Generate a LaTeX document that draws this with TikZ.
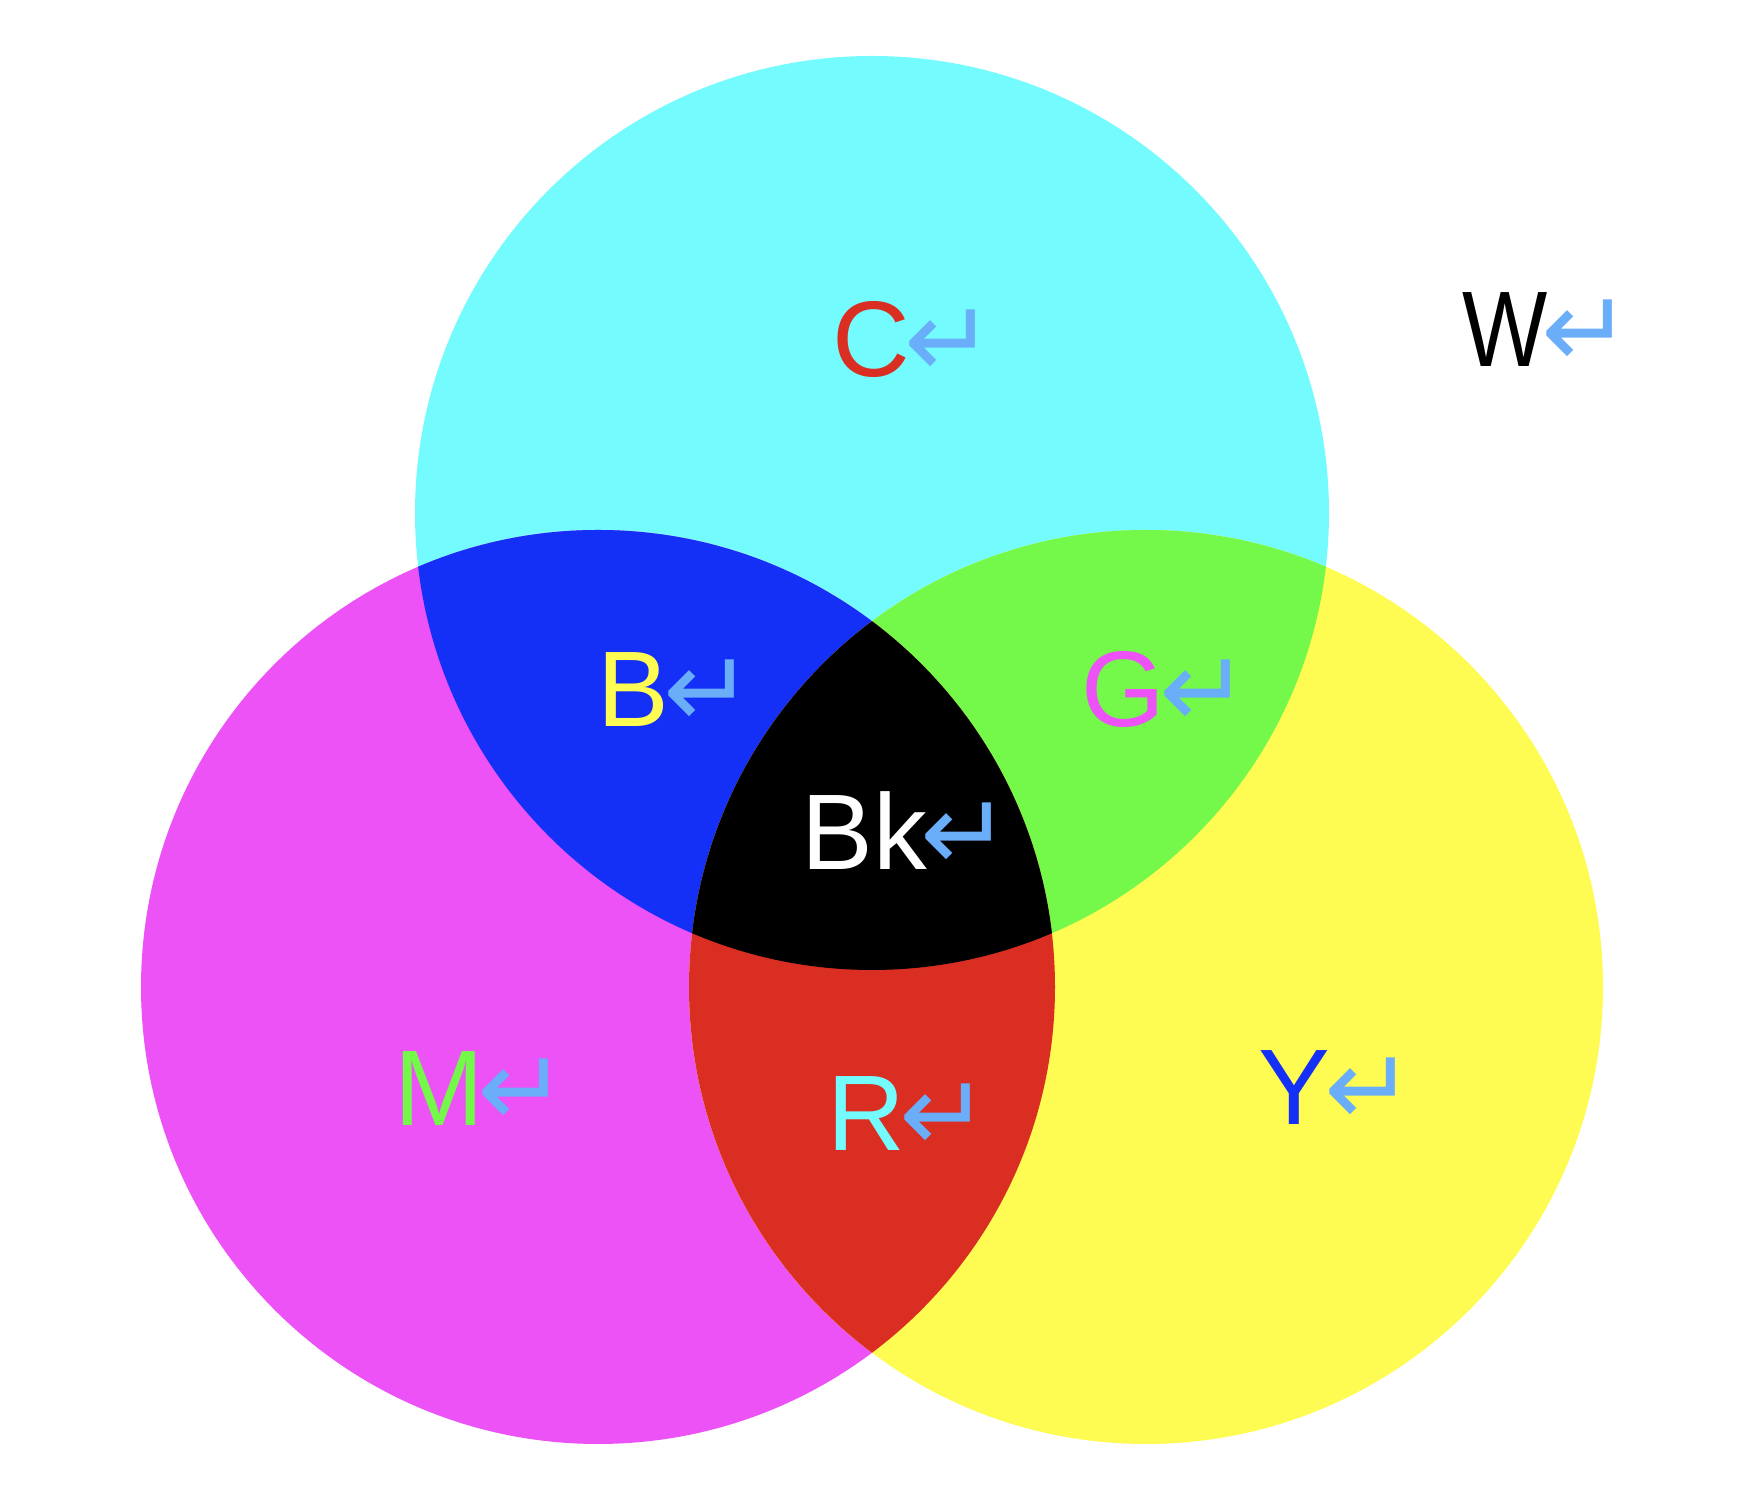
\documentclass[tikz,border=0pt]{standalone}
\usepackage{fontspec}
\setmainfont{Liberation Sans}
\newfontfamily\arrowfont{DejaVu Sans}

% --- 色の定義 ---
\definecolor{cyanC}{RGB}{116,251,253}
\definecolor{magM}{RGB}{236,82,246}
\definecolor{yelY}{RGB}{254,251,82}
\definecolor{blueB}{RGB}{20,48,246}
\definecolor{greenG}{RGB}{116,249,74}
\definecolor{redR}{RGB}{218,46,34}
\definecolor{retblue}{RGB}{106,173,248}

% 改行マーク
\newcommand{\retmark}{\kern-3pt{\arrowfont\fontsize{54pt}{54pt}\selectfont\color{retblue}\raisebox{-0.5pt}{↵}}}

\begin{document}
\begin{tikzpicture}[x=0.5pt, y=0.5pt,
    lbl/.style={anchor=base west, inner sep=0pt, font=\fontsize{53.75pt}{60pt}\selectfont}]
    \useasboundingbox (0,0) rectangle (1752,1492);

    % --- 3つの円 ---
    \fill[cyanC] (872,979) circle[radius=457];
    \fill[magM] (598,505) circle[radius=457];
    \fill[yelY] (1146,505) circle[radius=457];

    % --- 2つの円の重なり ---
    \begin{scope}
        \clip (872,979) circle[radius=457];
        \fill[blueB] (598,505) circle[radius=457];
        \fill[greenG] (1146,505) circle[radius=457];
    \end{scope}
    \begin{scope}
        \clip (598,505) circle[radius=457];
        \fill[redR] (1146,505) circle[radius=457];
    \end{scope}

    % ★★★ 3つの円の重なり ★★★
    \begin{scope}
        \clip (872,979) circle[radius=457];
        \clip (598,505) circle[radius=457];
        \fill[black] (1146,505) circle[radius=457];
    \end{scope}

    % --- ラベル ---
    \node[lbl, text=redR] (labC) at (832,1115) {C\retmark};
    \node[lbl, text=black] (labW) at (1462,1125) {\scalebox{0.84}[1]{W}\retmark};
    \node[lbl, text=yelY] (labB) at (597,765) {B\retmark};
    \node[lbl, text=magM] (labG) at (1081,765) {G\retmark};
    \node[lbl, text=white] (labBk) at (801,622) {Bk\retmark};
    \node[lbl, text=greenG] (labM) at (394,366) {M\retmark};
    \node[lbl, text=cyanC] (labR) at (827,341) {R\retmark};
    \node[lbl, text=blueB] (labY) at (1258,367) {Y\retmark};
\end{tikzpicture}
\end{document}
